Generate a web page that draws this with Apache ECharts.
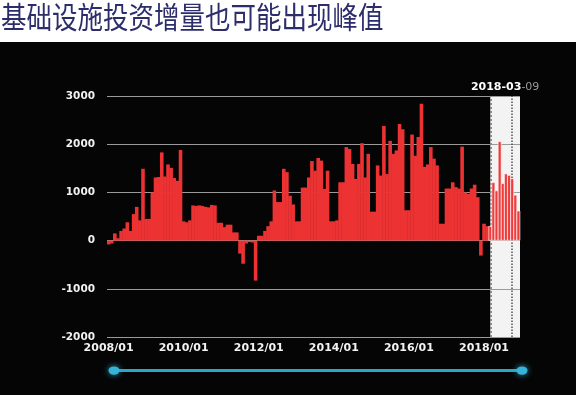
<!DOCTYPE html>
<html><head><meta charset="utf-8">
<script src="https://cdn.jsdelivr.net/npm/echarts@6/dist/echarts.min.js"></script>
<style>
html,body{margin:0;padding:0;background:#fff;}
#c{width:576px;height:395px;background:linear-gradient(to bottom,#ffffff 0,#ffffff 42px,#050505 42px,#050505 100%);}
</style></head><body><div id="c"></div>
<script>
const titleText = '基础设施投资增量也可能出现峰值';
const years = [2008, 2009, 2010, 2011, 2012, 2013, 2014, 2015, 2016, 2017, 2018];
const v2008 = [-80, -60, 150, 50, 200, 250, 380, 200, 550, 700, 420, 1490];
const v2009 = [450, 450, 1000, 1310, 1320, 1830, 1330, 1580, 1510, 1300, 1240, 1880];
const v2010 = [400, 380, 420, 730, 720, 730, 720, 700, 690, 740, 730, 370];
const v2011 = [370, 280, 330, 330, 170, 170, -270, -480, -60, -30, -40, -830];
const v2012 = [100, 100, 200, 300, 400, 1040, 800, 800, 1490, 1420, 930, 750];
const v2013 = [400, 400, 1100, 1100, 1310, 1650, 1450, 1715, 1660, 1070, 1450, 400];
const v2014 = [400, 420, 1210, 1210, 1940, 1900, 1590, 1280, 1590, 2020, 1310, 1800];
const v2015 = [600, 600, 1560, 1350, 2380, 1380, 2070, 1800, 1870, 2420, 2310, 630];
const v2016 = [630, 2200, 1760, 2150, 2840, 1530, 1580, 1940, 1700, 1560, 350, 350];
const v2017 = [1080, 1080, 1210, 1110, 1080, 1950, 1000, 970, 1080, 1160, 900, -310];
const v2018 = [350, 300, 300, 1210, 1040, 2060, 1190, 1390, 1360, 1290, 950, 620];
const yTicks = [-2000, -1000, 0, 1000, 2000, 3000];
const highlightStart = '2018/03';
const markerMonth = '2018/10';
const highlightLabelMain = '2018-03';
const highlightLabelTail = '-09';
const labelEvery = 24;

const categories = [];
years.forEach(y => { for (let m = 1; m <= 12; m++) categories.push(y + '/' + String(m).padStart(2, '0')); });
const values = [].concat(v2008, v2009, v2010, v2011, v2012, v2013, v2014, v2015, v2016, v2017, v2018);
const hiIdx = categories.indexOf(highlightStart);
const lastIdx = categories.length - 1;
const yMin = yTicks[0], yMax = yTicks[yTicks.length - 1];
const barData = values.map((v, i) => i >= hiIdx
  ? { value: v, itemStyle: { color: '#ee3b3b', borderColor: '#ffffff', borderWidth: 0.6 } }
  : v);

const titleGraphic = {
  id: 'title', type: 'text', x: 1, y: 2, scaleY: 1.18,
  style: { text: titleText, font: '25.5px "Noto Sans CJK SC"', fill: '#2c2d6b', verticalAlign: 'top' }
};

const chart = echarts.init(document.getElementById('c'), null, { renderer: 'canvas' });
chart.setOption({
  animation: false,
  backgroundColor: 'transparent',
  graphic: [titleGraphic],
  grid: { left: 107, right: 56, top: 96, bottom: 58 },
  xAxis: {
    type: 'category', data: categories, boundaryGap: true,
    axisLine: { show: false, onZero: false }, axisTick: { show: false }, splitLine: { show: false },
    axisLabel: {
      interval: (i) => i % labelEvery === 0,
      color: '#f2f2f2', fontFamily: 'DejaVu Sans', fontWeight: 'bold', fontSize: 11, margin: 6
    }
  },
  yAxis: {
    type: 'value', min: yMin, max: yMax, interval: 1000, z: 1.2,
    axisLine: { show: false }, axisTick: { show: false },
    splitLine: { lineStyle: { color: '#9a9a9a', width: 1 } },
    axisLabel: { formatter: (v) => String(v), color: '#f2f2f2', fontFamily: 'DejaVu Sans', fontWeight: 'bold', fontSize: 10.5, margin: 12 }
  },
  dataZoom: [{
    type: 'slider', xAxisIndex: 0, start: 0, end: 100,
    left: 112, right: 54, bottom: 23, height: 3,
    backgroundColor: 'rgba(0,0,0,0)', borderColor: 'rgba(0,0,0,0)',
    fillerColor: '#2aa6c9',
    showDetail: false, showDataShadow: false, brushSelect: false, moveHandleSize: 0,
    dataBackground: { lineStyle: { opacity: 0 }, areaStyle: { opacity: 0 } },
    selectedDataBackground: { lineStyle: { opacity: 0 }, areaStyle: { opacity: 0 } },
    handleIcon: 'path://M-6,0a6,4.5 0 1,0 12,0a6,4.5 0 1,0 -12,0z',
    handleSize: 11,
    handleStyle: { color: '#35b4d8', borderColor: '#35b4d8', borderWidth: 0, shadowBlur: 6, shadowColor: 'rgba(60,190,230,0.8)' },
    emphasis: { handleStyle: { color: '#35b4d8', borderColor: '#35b4d8' } },
    textStyle: { color: 'rgba(0,0,0,0)' }
  }],
  series: [{
    type: 'bar', data: barData, barWidth: 3.6,
    itemStyle: { color: '#ec3232' },
    emphasis: { disabled: true },
    markLine: {
      silent: true, z: 1.5, symbol: 'none', label: { show: false },
      data: [
        { xAxis: highlightStart, lineStyle: { type: 'dotted', color: '#8a8a8a', width: 2 } },
        { xAxis: markerMonth, lineStyle: { type: 'dotted', color: '#555555', width: 1.5 } }
      ]
    }
  }]
});

// highlight box positioned through the chart's own scales
const pStart = chart.convertToPixel({ gridIndex: 0 }, [hiIdx, yMax]);
const pEnd = chart.convertToPixel({ gridIndex: 0 }, [lastIdx, yMin]);
const band = chart.convertToPixel({ gridIndex: 0 }, [1, 0])[0] - chart.convertToPixel({ gridIndex: 0 }, [0, 0])[0];
const boxX0 = pStart[0], boxX1 = pEnd[0] + band / 2;
chart.setOption({
  graphic: [
    titleGraphic,
    {
      id: 'hiBox', type: 'rect', z: 1, silent: true,
      shape: { x: boxX0, y: pStart[1], width: boxX1 - boxX0, height: pEnd[1] - pStart[1] },
      style: { fill: '#f3f3f3' }
    },
    {
      id: 'hiLabel', type: 'text', z: 3, silent: true,
      x: (boxX0 + boxX1) / 2, y: pStart[1] - 9,
      style: {
        text: '{a|' + highlightLabelMain + '}{b|' + highlightLabelTail + '}',
        align: 'center', verticalAlign: 'middle',
        rich: {
          a: { fill: '#ffffff', fontWeight: 'bold', fontSize: 11, fontFamily: 'DejaVu Sans' },
          b: { fill: '#9a9a9a', fontSize: 11, fontFamily: 'DejaVu Sans' }
        }
      }
    }
  ]
});
</script></body></html>
